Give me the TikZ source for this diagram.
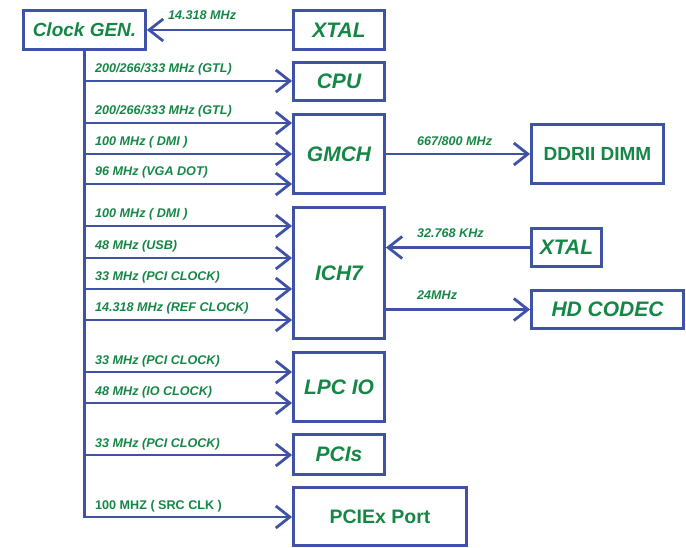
\documentclass[tikz,border=0pt]{standalone}
\usepackage{fontspec}
\setmainfont{Liberation Sans}
\usetikzlibrary{arrows.meta}

\definecolor{bordo}{RGB}{64,82,166}
\definecolor{verde}{RGB}{20,135,70}

\tikzset{
  blocco/.style={draw=bordo, line width=2.8pt, text=verde, inner sep=0pt,
    font=\bfseries\itshape\fontsize{21}{25}\selectfont},
  freq/.style={text=verde, inner sep=0pt, anchor=base west,
    font=\bfseries\itshape\fontsize{12.6}{15}\selectfont},
  linea/.style={draw=bordo, line width=2.8pt},
}

\begin{document}
\begin{tikzpicture}[x=1pt, y=-1pt, >={Straight Barb[length=14pt,width=22pt]}]
\useasboundingbox (0,0) rectangle (686,548);

% --- Blocchi (colonna centrale) ---
\node[blocco, minimum width=122pt, minimum height=39pt, font=\bfseries\itshape\fontsize{19}{23}\selectfont] (clk) at (84.5,30) {Clock GEN.};
\node[blocco, minimum width=91pt, minimum height=39pt] (xtal1) at (339,30) {XTAL};
\node[blocco, minimum width=91pt, minimum height=38pt] (cpu) at (339,81.5) {CPU};
\node[blocco, minimum width=91pt, minimum height=79pt] (gmch) at (339,154) {GMCH};
\node[blocco, minimum width=91pt, minimum height=131pt] (ich) at (339,273) {ICH7};
\node[blocco, minimum width=91pt, minimum height=69pt] (lpc) at (339,387) {LPC IO};
\node[blocco, minimum width=91pt, minimum height=40pt] (pcis) at (339,454.5) {PCIs};
\node[blocco, minimum width=173pt, minimum height=58pt, font=\bfseries\fontsize{19.5}{23}\selectfont] (pcie) at (380,516.5) {PCIEx Port};

% --- Blocchi (destra) ---
\node[blocco, minimum width=132pt, minimum height=59pt, font=\bfseries\fontsize{19}{23}\selectfont] (ddr) at (597.5,154) {DDRII DIMM};
\node[blocco, minimum width=70pt, minimum height=38pt] (xtal2) at (566.5,247.5) {XTAL};
\node[blocco, minimum width=152pt, minimum height=38pt] (hd) at (607.5,309.5) {HD CODEC};

% Quarzo verso il generatore
\draw[linea, ->] (xtal1.west) -- (clk.east);
\node[freq] (f0) at (168,20) {14.318 MHz};

% --- Clock distribuiti dal bus verticale ---
\foreach \y/\etichetta/\dest in {81/{200/266/333 MHz (GTL)}/cpu, 123/{200/266/333 MHz (GTL)}/gmch,
    154/{100 MHz ( DMI )}/gmch, 184/{96 MHz (VGA DOT)}/gmch,
    226/{100 MHz ( DMI )}/ich, 258/{48 MHz (USB)}/ich, 289/{33 MHz (PCI CLOCK)}/ich,
    320/{14.318 MHz (REF CLOCK)}/ich, 372/{33 MHz (PCI CLOCK)}/lpc, 403/{48 MHz (IO CLOCK)}/lpc,
    455/{33 MHz (PCI CLOCK)}/pcis, 517/{\upshape 100 MHZ ( SRC CLK )}/pcie} {
    \coordinate (b\y) at (84.5,\y);
    \draw[linea, ->] (b\y) -- (b\y -| \dest.west);
    \node[freq] (f\y) at (95,\y-8) {\etichetta};
}
\draw[linea, line cap=rect] (clk.south) -- (b517);

% --- Collegamenti a destra ---
\draw[linea, ->] (gmch) -- (ddr);
\node[freq] (fddr) at (417,146) {667/800 MHz};
\draw[linea, ->] (xtal2.west) -- (xtal2.west -| ich.east);
\node[freq] (frtc) at (417,238) {32.768 KHz};
\draw[linea, ->] (hd.west -| ich.east) -- (hd.west);
\node[freq] (fhd) at (417,300) {24MHz};

\end{tikzpicture}
\end{document}
